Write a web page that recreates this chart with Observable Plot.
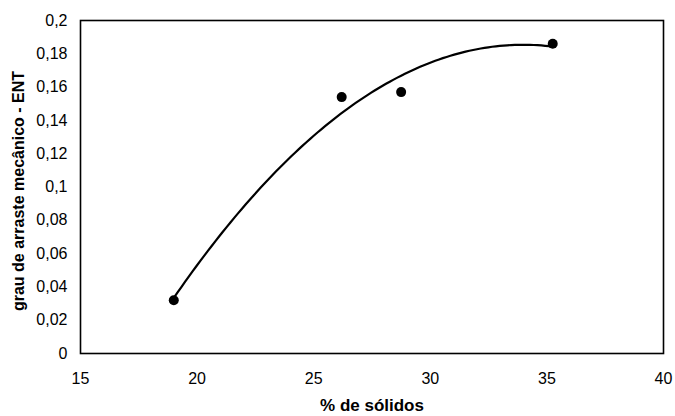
<!DOCTYPE html>
<html>
<head>
<meta charset="utf-8">
<script src="https://cdn.jsdelivr.net/npm/d3@7"></script>
<script src="https://cdn.jsdelivr.net/npm/@observablehq/plot@0.6"></script>
<style>
  html, body { margin: 0; padding: 0; background: #fff; }
  #chart { width: 675px; height: 416px; }
</style>
</head>
<body>
<div id="chart"></div>
<script>
// Data
const solidos = [19.0, 26.2, 28.75, 35.25];          // % de sólidos
const grauArraste = [0.032, 0.154, 0.157, 0.186];   // grau de arraste mecânico - ENT
const xTicks = [15, 20, 25, 30, 35, 40];
const yTicks = [0, 0.02, 0.04, 0.06, 0.08, 0.1, 0.12, 0.14, 0.16, 0.18, 0.2];

const points = solidos.map((x, i) => ({x, y: grauArraste[i]}));

// Second-order polynomial trendline (least squares) fitted to the data points
function polyFit2(xs, ys) {
  const n = xs.length;
  let s = [0,0,0,0,0], t = [0,0,0];
  for (let i = 0; i < n; i++) {
    let p = 1;
    for (let k = 0; k <= 4; k++) { s[k] += p; if (k <= 2) t[k] += p * ys[i]; p *= xs[i]; }
  }
  const A = [[s[0], s[1], s[2], t[0]], [s[1], s[2], s[3], t[1]], [s[2], s[3], s[4], t[2]]];
  for (let i = 0; i < 3; i++) {
    for (let j = i + 1; j < 3; j++) {
      const f = A[j][i] / A[i][i];
      for (let k = i; k < 4; k++) A[j][k] -= f * A[i][k];
    }
  }
  const c = [0,0,0];
  for (let i = 2; i >= 0; i--) {
    let v = A[i][3];
    for (let k = i + 1; k < 3; k++) v -= A[i][k] * c[k];
    c[i] = v / A[i][i];
  }
  return c;
}
const coef = polyFit2(solidos, grauArraste);
const xmin = d3.min(solidos), xmax = d3.max(solidos);
const trend = d3.range(0, 101).map(i => {
  const x = xmin + (xmax - xmin) * i / 100;
  return {x, y: coef[0] + coef[1] * x + coef[2] * x * x};
});

const fmt = d => String(d).replace(".", ",");

const chart = Plot.plot({
  width: 675,
  height: 416,
  marginLeft: 80,
  marginRight: 12,
  marginTop: 20,
  marginBottom: 63,
  style: { fontFamily: "'Liberation Sans', Arial, sans-serif", fontSize: "16px", color: "#000", background: "#fff" },
  x: { domain: [15, 40], ticks: xTicks, tickFormat: fmt, tickSize: 0, tickPadding: 19, label: null },
  y: { domain: [0, 0.2], ticks: yTicks, tickFormat: fmt, tickSize: 0, tickPadding: 13, label: null },
  marks: [
    Plot.frame({ stroke: "#000", strokeWidth: 1.6 }),
    Plot.line(trend, { x: "x", y: "y", stroke: "#000", strokeWidth: 2.2, curve: "linear" }),
    Plot.dot(points, { x: "x", y: "y", r: 5, fill: "#000", stroke: "none" }),
    Plot.text(["% de sólidos"], { frameAnchor: "bottom", textAnchor: "middle", lineAnchor: "middle", dy: 52, fontWeight: "bold", fontSize: 17, fill: "#000" }),
    Plot.text(["grau de arraste mecânico - ENT"], { frameAnchor: "left", textAnchor: "middle", lineAnchor: "middle", dx: -62, dy: 4, rotate: -90, fontWeight: "bold", fontSize: 16, fill: "#000" })
  ]
});
document.getElementById("chart").appendChild(chart);
</script>
</body>
</html>
